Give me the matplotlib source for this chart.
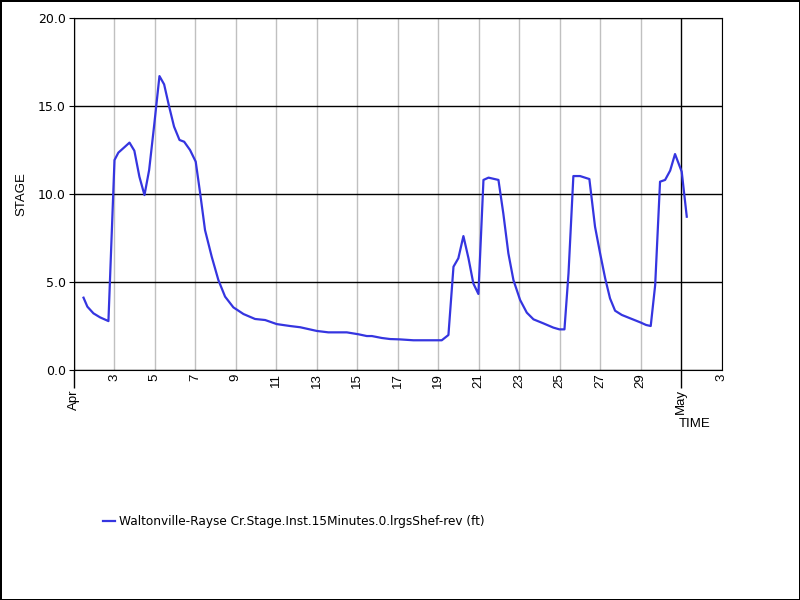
#! /usr/bin/env python3
import matplotlib
matplotlib.use('Agg')
import matplotlib.pyplot as plt
import matplotlib.dates as mdates
import pandas as pd

# days after Apr 1 00:00, and stage (ft)
days = [0.49, 0.68, 0.98, 1.31, 1.72, 2.02, 2.21, 2.54, 2.76, 3.0, 3.25, 3.5,
        3.73, 3.98, 4.24, 4.47, 4.72, 4.96, 5.23, 5.46, 5.75, 6.03, 6.25, 6.49,
        6.82, 7.15, 7.48, 7.89, 8.39, 8.96, 9.46, 10.03, 10.69, 11.19, 12.01,
        12.58, 13.49, 14.07, 14.48, 14.73, 15.22, 15.63, 16.12, 16.78, 18.18,
        18.51, 18.76, 19.0, 19.25, 19.5, 19.74, 19.99, 20.24, 20.49, 20.98,
        21.22, 21.47, 21.72, 22.05, 22.38, 22.71, 23.2, 23.69, 23.99, 24.24,
        24.44, 24.68, 25.01, 25.47, 25.75, 26.0, 26.25, 26.49, 26.74, 27.07,
        27.48, 27.98, 28.27, 28.5, 28.72, 28.96, 29.21, 29.46, 29.7, 30.03,
        30.28]
stage = [4.11, 3.6, 3.22, 2.99, 2.78, 11.93, 12.35, 12.69, 12.92, 12.46, 10.98,
         9.94, 11.36, 13.92, 16.7, 16.23, 14.96, 13.83, 13.07, 12.97, 12.5,
         11.84, 10.04, 7.95, 6.44, 5.11, 4.17, 3.56, 3.18, 2.9, 2.84, 2.61, 2.5,
         2.43, 2.22, 2.14, 2.14, 2.03, 1.93, 1.93, 1.82, 1.76, 1.74, 1.69, 1.69,
         1.99, 5.87, 6.35, 7.61, 6.35, 4.92, 4.32, 10.8, 10.93, 10.8, 8.9, 6.63,
         5.11, 3.98, 3.26, 2.88, 2.65, 2.41, 2.31, 2.31, 5.49, 11.02, 11.02,
         10.85, 8.14, 6.63, 5.21, 4.07, 3.37, 3.13, 2.94, 2.71, 2.56, 2.5, 4.83,
         10.7, 10.8, 11.33, 12.27, 11.27, 8.71]

start = pd.Timestamp('2019-04-01')
end = pd.Timestamp('2019-05-03')
times = start + pd.to_timedelta(days, unit='D')

plt.rcParams['font.family'] = 'DejaVu Sans'
plt.rcParams['font.size'] = 9

fig = plt.figure(figsize=(8, 6), dpi=100)
fig.patch.set_edgecolor('black')
fig.patch.set_linewidth(2)
ax = fig.add_axes([0.092, 0.3833, 0.810, 0.5867])

line, = ax.plot(times, stage, color='#3535e0', linewidth=1.6,
                label='Waltonville-Rayse Cr.Stage.Inst.15Minutes.0.lrgsShef-rev (ft)')

ax.set_xlim(start, end)
ax.set_ylim(0, 20)
ax.set_yticks([0, 5, 10, 15, 20])
ax.set_yticklabels(['0.0', '5.0', '10.0', '15.0', '20.0'])

ax.xaxis.set_major_locator(mdates.MonthLocator())
ax.xaxis.set_major_formatter(mdates.DateFormatter('%b'))
ax.xaxis.set_minor_locator(mdates.DayLocator(bymonthday=range(3, 32, 2)))
ax.xaxis.set_minor_formatter(mdates.DateFormatter('%-d'))

ax.tick_params(axis='x', which='major', length=13, width=1, rotation=90, pad=1)
ax.tick_params(axis='x', which='minor', length=0, rotation=90, pad=2.5)
ax.tick_params(axis='y', length=3.5, pad=2)
for lbl in ax.get_xticklabels(which='both'):
    lbl.set_family('Liberation Sans')
    lbl.set_fontsize(9.5)

ax.grid(True, axis='x', which='minor', color='#c0c0c0', linewidth=1)
ax.grid(True, axis='x', which='major', color='black', linewidth=1)
ax.grid(True, axis='y', color='black', linewidth=1)
ax.set_axisbelow(True)

ax.set_ylabel('STAGE', family='Liberation Sans', fontsize=9.5)
ax.yaxis.set_label_coords(-0.071, 0.5)
ax.set_xlabel('TIME', family='Liberation Sans', fontsize=9.5)
ax.xaxis.set_label_coords(0.959, -0.153)
ax.xaxis.get_label().set_va('center')

fig.legend(handles=[line], loc='center left', bbox_to_anchor=(0.115, 0.13),
           frameon=False, handlelength=1.0, handletextpad=0.3, fontsize=8.7)

plt.savefig('out.png', dpi=100)
